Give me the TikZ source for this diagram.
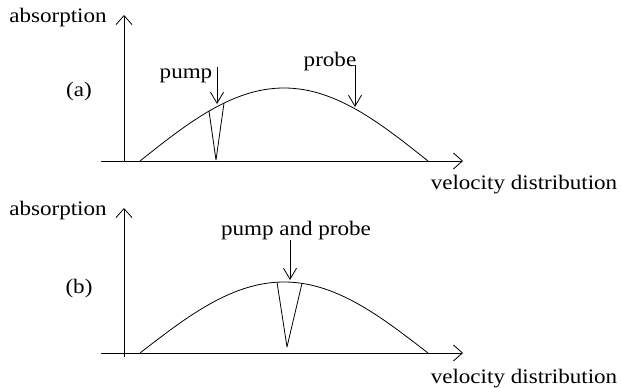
\documentclass[tikz,border=0pt]{standalone}
\usepackage{fontspec}
\setmainfont{Liberation Serif}[FakeStretch=1.12]
\usetikzlibrary{arrows.meta}
\begin{document}
\begin{tikzpicture}[x=1pt,y=-1pt,line width=0.8pt,
  axis/.style={-{Straight Barb[length=9pt,width=16pt,line width=0.8pt]}},
  marker/.style={-{Straight Barb[length=11pt,width=13pt,line width=0.8pt]}},
  lbl/.style={inner sep=0pt,anchor=base,font=\fontsize{20.6}{24}\selectfont}]
\useasboundingbox (0,0) rectangle (621,388);
% ---------- panel (a)
\coordinate (ay0) at (124,162);
\coordinate (ay1) at (124,15);
\coordinate (ax0) at (101,161);
\coordinate (ax1) at (463,161);
\draw[axis] (ay0) -- (ay1);
\draw[axis] (ax0) -- (ax1);
\node[lbl] (absa) at (58,23) {absorption};
\node[lbl] (laba) at (79,96) {(a)};
\node[lbl] (vela) at (524,189) {velocity distribution};
\draw plot[domain=140:428,samples=100] (\x,{161-73*cos(90*(\x-284)/144)});
\coordinate (dal) at (209,{161-73*cos(90*(209-284)/144)});
\coordinate (dar) at (224,{161-73*cos(90*(224-284)/144)});
\coordinate (dab) at (216,160);
\draw[line join=round] (dal) -- (dab) -- (dar);
\node[lbl] (pump) at (186,78) {pump};
\node[lbl] (probe) at (330,66) {probe};
\coordinate (pumpt) at (217,67);
\coordinate (pumph) at (217,104);
\coordinate (probet) at (355,65);
\coordinate (probeh) at (355,107);
\draw[marker] (pumpt) -- (pumph);
\draw[marker] (probet) -- (probeh);
% ---------- panel (b)
\coordinate (by0) at (124,357);
\coordinate (by1) at (124,208);
\coordinate (bx0) at (101,353);
\coordinate (bx1) at (463,353);
\draw[axis] (by0) -- (by1);
\draw[axis] (bx0) -- (bx1);
\node[lbl] (absb) at (58,215) {absorption};
\node[lbl] (labb) at (79,293) {(b)};
\node[lbl] (velb) at (524,383) {velocity distribution};
\draw plot[domain=140:428,samples=100] (\x,{353-71*cos(90*(\x-284)/144)});
\coordinate (dbl) at (277,{353-71*cos(90*(277-284)/144)});
\coordinate (dbr) at (302,{353-71*cos(90*(302-284)/144)});
\coordinate (dbb) at (287,347);
\draw[line join=round] (dbl) -- (dbb) -- (dbr);
\node[lbl] (pp) at (296,235) {pump and probe};
\coordinate (ppt) at (290,240);
\coordinate (pph) at (290,280);
\draw[marker] (ppt) -- (pph);
\end{tikzpicture}
\end{document}
